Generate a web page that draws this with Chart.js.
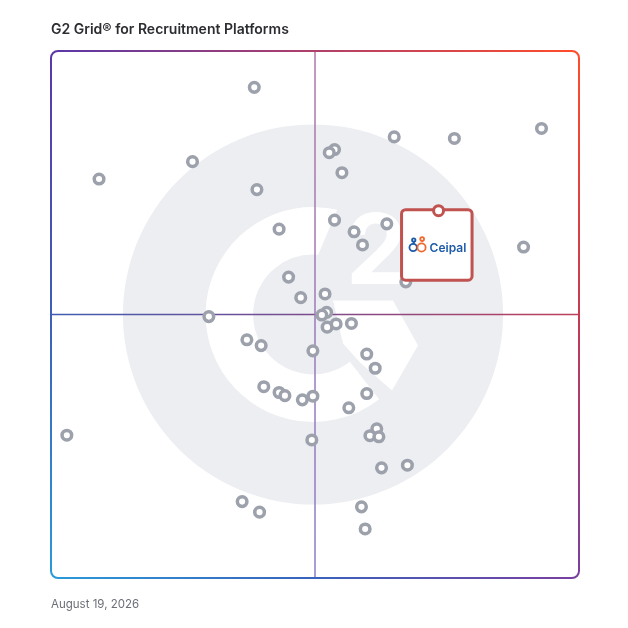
<!DOCTYPE html>
<html>
<head>
<meta charset="utf-8">
<script src="https://cdn.jsdelivr.net/npm/chart.js@4.4.1/dist/chart.umd.min.js"></script>
<style>
  html, body { margin: 0; padding: 0; background: #fff; }
  #wrap { position: relative; width: 628px; height: 628px; }
  #chart { position: absolute; left: 0; top: 0; }
  .title { position: absolute; left: 51px; top: 20px; font: 600 14px Inter, sans-serif; color: #2b2d31; white-space: nowrap; }
  .date { position: absolute; left: 51px; top: 597px; font: 400 11.5px Inter, sans-serif; color: #6b6f76; white-space: nowrap; }
</style>
</head>
<body>
<div id="wrap">
  <canvas id="chart" width="628" height="628"></canvas>
  <div class="title">G2 Grid® for Recruitment Platforms</div>
  <div class="date">August 19, 2026</div>
</div>
<script>
// satisfaction (x) and market presence (y), 0..100
const satisfaction = [
    38.5, 26.8, 9.1, 39.0, 43.2, 45.0, 47.3, 29.9,
    65.0, 76.4, 92.9, 53.7, 52.7, 55.1, 53.7, 57.4, 59.0, 63.6, 89.5, 67.2, 51.9,
    52.2, 51.3, 52.3, 54.0, 56.9, 49.6, 59.8, 61.4, 49.6, 47.6, 59.8, 56.4,
    37.1, 39.8, 40.3, 43.2, 44.3, 3.0, 49.4, 36.2, 39.5,
    61.7, 60.4, 62.1, 62.6, 67.5, 58.8, 59.5
];
const marketPresence = [
    93.1, 79.0, 75.7, 73.7, 66.2, 57.1, 53.2, 49.6,
    83.7, 83.4, 85.3, 81.3, 80.7, 76.9, 67.9, 65.7, 63.2, 67.2, 62.8, 56.2, 53.9,
    50.4, 49.9, 47.6, 48.2, 48.3, 43.1, 42.5, 39.8, 34.5, 33.8, 35.0, 32.3,
    45.2, 44.1, 36.3, 35.2, 34.6, 27.1, 26.2, 14.5, 12.5,
    28.3, 27.0, 26.8, 20.9, 21.4, 13.5, 9.3
];
const featuredName = "Ceipal";
const featuredSatisfaction = [73.4];
const featuredPresence = [69.7];

const gray = "#9ca1ac";
const red = "#c05250";

function lin(ctx, x0, y0, x1, y1, stops) {
    const g = ctx.createLinearGradient(x0, y0, x1, y1);
    stops.forEach((c, i) => g.addColorStop(i / (stops.length - 1), c));
    return g;
}

const backdrop = {
    id: "backdrop",
    beforeDatasetsDraw(chart) {
        const { ctx, chartArea: a, scales } = chart;
        const cx = scales.x.getPixelForValue(50) - 2;
        const cy = scales.y.getPixelForValue(50);
        const R = (a.right - a.left) * 0.36;
        ctx.save();
        // G2 watermark
        ctx.fillStyle = "#eceef1";
        ctx.beginPath();
        ctx.arc(cx, cy, R, 0, Math.PI * 2);
        ctx.fill();
        ctx.fillStyle = "#ffffff";
        const ro = R * 0.565, ri = R * 0.315;
        const d = Math.PI / 180;
        ctx.beginPath();
        ctx.arc(cx, cy, ro, -77 * d, 52 * d, true);
        ctx.arc(cx, cy, ri, 52 * d, -85 * d, false);
        ctx.closePath();
        ctx.fill();
        // chevron
        ctx.beginPath();
        ctx.moveTo(cx + 20, cy - 14);
        ctx.lineTo(cx + 80, cy - 14);
        ctx.lineTo(cx + 105, cy + 31);
        ctx.lineTo(cx + 79, cy + 76);
        ctx.lineTo(cx + 47, cy + 48);
        ctx.lineTo(cx + 30, cy + 29);
        ctx.closePath();
        ctx.fill();
        // the "2"
        ctx.font = "bold 97px Inter, sans-serif";
        ctx.textBaseline = "alphabetic";
        ctx.textAlign = "left";
        ctx.fillText("2", cx + 33, cy - 31);

        // quadrant lines
        ctx.lineWidth = 1.5;
        ctx.strokeStyle = lin(ctx, a.left, 0, a.right, 0, ["#3f5db2", "#7d4b8e", "#c0405a"]);
        ctx.beginPath();
        ctx.moveTo(a.left, cy);
        ctx.lineTo(a.right, cy);
        ctx.stroke();
        ctx.strokeStyle = lin(ctx, 0, a.top, 0, a.bottom, ["#b476a6", "#9a7ab8", "#8a7ec8"]);
        ctx.beginPath();
        ctx.moveTo(cx + 2, a.top);
        ctx.lineTo(cx + 2, a.bottom);
        ctx.stroke();

        // gradient frame
        const r = 7, L = a.left, T = a.top, Rr = a.right, B = a.bottom;
        ctx.lineWidth = 2;
        ctx.strokeStyle = lin(ctx, L, 0, Rr, 0, ["#5a38a8", "#b0406a", "#ff4d2a"]);
        ctx.beginPath();
        ctx.moveTo(L, T + r);
        ctx.arcTo(L, T, L + r, T, r);
        ctx.lineTo(Rr - r, T);
        ctx.arcTo(Rr, T, Rr, T + r, r);
        ctx.stroke();
        ctx.strokeStyle = lin(ctx, 0, T, 0, B, ["#ff4d2a", "#c63a52", "#7a3fa0"]);
        ctx.beginPath();
        ctx.moveTo(Rr, T + r);
        ctx.lineTo(Rr, B - r);
        ctx.stroke();
        ctx.strokeStyle = lin(ctx, L, 0, Rr, 0, ["#2a9ad8", "#3a62bc", "#7a3fa0"]);
        ctx.beginPath();
        ctx.moveTo(Rr, B - r);
        ctx.arcTo(Rr, B, Rr - r, B, r);
        ctx.lineTo(L + r, B);
        ctx.arcTo(L, B, L, B - r, r);
        ctx.stroke();
        ctx.strokeStyle = lin(ctx, 0, T, 0, B, ["#5a38a8", "#3e5fb5", "#2a9ad8"]);
        ctx.beginPath();
        ctx.moveTo(L, B - r);
        ctx.lineTo(L, T + r);
        ctx.stroke();
        ctx.restore();
    },
    afterDatasetDraw(chart, args) {
        if (args.index !== 1) return;
        const p = chart.getDatasetMeta(0).data[0];
        if (!p) return;
        const { ctx } = chart;
        const px = p.x, py = p.y;
        ctx.save();
        const x0 = px - 38.5, y0 = py - 2.5, s = 73.5;
        ctx.fillStyle = "#ffffff";
        ctx.strokeStyle = red;
        ctx.lineWidth = 3;
        ctx.beginPath();
        ctx.roundRect(x0 + 1.5, y0 + 1.5, s - 3, s - 3, 4);
        ctx.fill();
        ctx.stroke();
        // logo
        const blue = "#1d5aa8", orange = "#f0692e";
        ctx.lineWidth = 1.8;
        ctx.strokeStyle = blue;
        ctx.beginPath(); ctx.arc(px - 25.4, py + 36.8, 3.7, 0, Math.PI * 2); ctx.stroke();
        ctx.beginPath(); ctx.arc(px - 24.8, py + 29.3, 1.7, 0, Math.PI * 2); ctx.stroke();
        ctx.beginPath(); ctx.moveTo(px - 24.8, py + 31); ctx.lineTo(px - 24.8, py + 33.5); ctx.stroke();
        ctx.strokeStyle = orange;
        ctx.beginPath(); ctx.arc(px - 17, py + 36.8, 4.1, 0, Math.PI * 2); ctx.stroke();
        ctx.beginPath(); ctx.arc(px - 16.4, py + 28.4, 1.9, 0, Math.PI * 2); ctx.stroke();
        ctx.fillStyle = blue;
        ctx.font = "600 12px Inter, sans-serif";
        ctx.textAlign = "left";
        ctx.textBaseline = "alphabetic";
        ctx.fillText(featuredName, px - 9, py + 41.5);
        ctx.restore();
    }
};

const ctx = document.getElementById("chart").getContext("2d");
new Chart(ctx, {
    type: "scatter",
    data: {
        datasets: [
            {
                label: featuredName,
                data: featuredSatisfaction.map((x, i) => ({ x, y: featuredPresence[i] })),
                pointRadius: 5,
                pointBorderWidth: 3,
                borderColor: red,
                backgroundColor: "#ffffff",
                pointHoverRadius: 5
            },
            {
                label: "Products",
                data: satisfaction.map((x, i) => ({ x, y: marketPresence[i] })),
                pointRadius: 4.8,
                pointBorderWidth: 3.5,
                borderColor: gray,
                backgroundColor: "#ffffff",
                pointHoverRadius: 4.8
            }
        ]
    },
    options: {
        responsive: false,
        animation: false,
        clip: false,
        layout: { padding: { left: 51, top: 51, right: 49, bottom: 50 } },
        scales: {
            x: { type: "linear", min: 0, max: 100, display: false },
            y: { type: "linear", min: 0, max: 100, display: false }
        },
        plugins: { legend: { display: false }, tooltip: { enabled: false }, title: { display: false } }
    },
    plugins: [backdrop]
});
</script>
</body>
</html>
